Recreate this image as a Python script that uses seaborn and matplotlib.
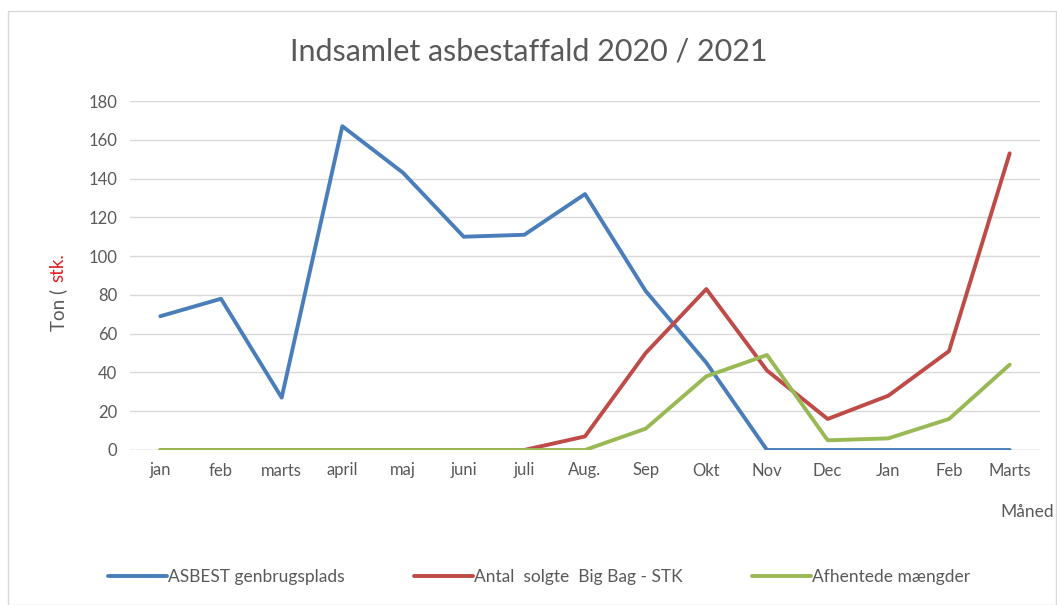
import matplotlib
matplotlib.use("Agg")
import matplotlib.pyplot as plt
import seaborn as sns
import pandas as pd
from matplotlib.patches import Rectangle
from matplotlib.lines import Line2D

months = ["jan", "feb", "marts", "april", "maj", "juni", "juli", "Aug.", "Sep", "Okt",
          "Nov", "Dec", "Jan", "Feb", "Marts"]
asbest = [69, 78, 27, 167, 143, 110, 111, 132, 82, 45, 0, 0, 0, 0, 0]
bigbag = [0, 0, 0, 0, 0, 0, 0, 7, 50, 83, 41, 16, 28, 51, 153]
afhentet = [0, 0, 0, 0, 0, 0, 0, 0, 11, 38, 49, 5, 6, 16, 44]
series_names = ["ASBEST genbrugsplads", "Antal  solgte  Big Bag - STK", "Afhentede mængder"]
colors = ["#4A7EBB", "#BE4B48", "#98B954"]

rows = []
for name, vals in zip(series_names, [asbest, bigbag, afhentet]):
    for i, (m, v) in enumerate(zip(months, vals)):
        rows.append({"idx": i, "Måned": m, "value": v, "series": name})
df = pd.DataFrame(rows)

sns.set_theme(style="white")
plt.rcParams["font.family"] = ["Lato", "DejaVu Sans"]

fig = plt.figure(figsize=(10.57, 6.05), dpi=100)
ax = fig.add_axes([130 / 1057, 1 - 450 / 605, (1040 - 130) / 1057, (450 - 101) / 605])

sns.lineplot(data=df, x="idx", y="value", hue="series", hue_order=series_names,
             palette=colors, linewidth=2.8, ax=ax, legend=False)

ax.set_xlim(-0.5, len(months) - 0.5)
ax.set_ylim(0, 180)
ax.set_yticks(range(0, 181, 20))
ax.set_xticks(range(len(months)))
ax.set_xticklabels(months)
ax.tick_params(axis="both", colors="#595959", labelsize=12, length=0, pad=9)
ax.yaxis.grid(True, color="#D9D9D9", linewidth=1)
ax.set_axisbelow(True)
for s in ax.spines.values():
    s.set_visible(False)
ax.axhline(0, color="#D9D9D9", linewidth=1, zorder=0)
ax.set_xlabel("")
ax.set_ylabel("")

fig.text(1027 / 1057, 1 - 512 / 605, "Måned", ha="center", va="center",
         fontsize=12.5, color="#595959")

fig.text(0.5, 1 - 52 / 605, "Indsamlet asbestaffald 2020 / 2021", ha="center", va="center",
         fontsize=22, color="#595959")

# y-axis label in two colours
fig.canvas.draw()
r = fig.canvas.get_renderer()
t1 = fig.text(58 / 1057, 1 - 331 / 605, "Ton ( ", rotation=90, ha="center", va="bottom",
              fontsize=13.5, color="#595959")
bb = t1.get_window_extent(renderer=r)
fig.text(58 / 1057, (bb.y1 + 2) / fig.bbox.height, "stk.", rotation=90, ha="center", va="bottom",
         fontsize=13.5, color="#E02020")

handles = [Line2D([0], [0], color=c, linewidth=2.8) for c in colors]
fig.legend(handles, series_names, loc="center", bbox_to_anchor=(0.51, 1 - 577 / 605),
           ncol=3, frameon=False, fontsize=12.5, handlelength=3.4, handletextpad=0.05,
           columnspacing=4.0, labelcolor="#595959")

fig.add_artist(Rectangle((8 / 1057, 0), 1 - 9 / 1057, 1 - 11 / 605, transform=fig.transFigure,
                         fill=False, edgecolor="#D9D9D9", linewidth=1))

fig.savefig("out.png", dpi=100, facecolor="white")
